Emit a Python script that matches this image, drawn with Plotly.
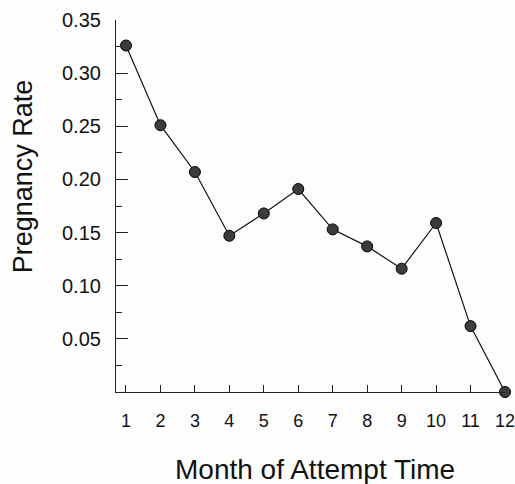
import plotly.graph_objects as go

months = [1, 2, 3, 4, 5, 6, 7, 8, 9, 10, 11, 12]
rates = [0.326, 0.251, 0.207, 0.147, 0.168, 0.191, 0.153, 0.137, 0.116, 0.159, 0.062, 0.0]
x_ticks = [1, 2, 3, 4, 5, 6, 7, 8, 9, 10, 11, 12]
y_ticks = [0.05, 0.10, 0.15, 0.20, 0.25, 0.30, 0.35]
y_labels = ["0.05", "0.10", "0.15", "0.20", "0.25", "0.30", "0.35"]
y_minor = [0.025, 0.075, 0.125, 0.175, 0.225, 0.275, 0.325]
x_title = "Month of Attempt Time"
y_title = "Pregnancy Rate"

font = "Liberation Sans, Arial, sans-serif"

fig = go.Figure()
fig.add_trace(go.Scatter(
    x=months, y=rates, mode="lines+markers",
    line=dict(color="#111111", width=1.2),
    marker=dict(size=11, color="#3c3c3c", line=dict(color="#000000", width=1)),
    cliponaxis=False, showlegend=False,
))

fig.update_layout(
    width=515, height=484,
    margin=dict(l=116, r=10, t=20, b=92, autoexpand=False),
    paper_bgcolor="#fdfdfd", plot_bgcolor="#fdfdfd",
    font=dict(family=font, color="#111111"),
    xaxis=dict(
        range=[0.71, 12.0], tickmode="array", tickvals=x_ticks,
        ticks="inside", ticklen=7, tickcolor="#222", tickwidth=1,
        showline=True, linecolor="#222", linewidth=1.2, automargin=False,
        showgrid=False, zeroline=False, tickfont=dict(size=18),
        ticklabelstandoff=12, ticklabeloverflow="allow",
    ),
    yaxis=dict(
        range=[0, 0.35], tickmode="array", tickvals=y_ticks, ticktext=y_labels,
        ticks="inside", ticklen=12, tickcolor="#222", tickwidth=1,
        minor=dict(tickmode="array", tickvals=y_minor,
                   ticks="inside", ticklen=6, tickcolor="#222", tickwidth=1),
        showline=True, linecolor="#222", linewidth=1.2, automargin=False,
        showgrid=False, zeroline=False, tickfont=dict(size=20),
        ticklabelstandoff=10, ticklabeloverflow="allow",
    ),
    annotations=[
        dict(text=x_title, xref="paper", yref="paper", x=0.512, y=-0.208,
             xanchor="center", yanchor="middle", showarrow=False,
             font=dict(size=28)),
        dict(text=y_title, xref="paper", yref="paper", x=0, y=0.58,
             xshift=-93, xanchor="center", yanchor="middle", textangle=-90,
             showarrow=False, font=dict(size=27)),
    ],
)

fig.write_html(
    "out.html",
    config={"displayModeBar": False},
    post_script="document.body.style.margin='0';document.body.style.overflow='hidden';",
)
